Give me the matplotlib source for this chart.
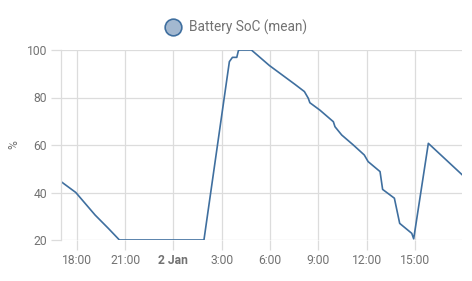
import matplotlib
matplotlib.use("Agg")
import matplotlib.pyplot as plt
from matplotlib.lines import Line2D

# hours since 1 Jan 00:00
hours = [17.04, 17.94, 19.14, 19.96, 20.65, 25.90, 27.48, 27.67, 27.94, 28.04, 28.10,
         28.85, 29.96, 31.56, 32.14, 32.38, 32.48, 33.10, 33.94, 34.04, 34.46, 35.18,
         35.86, 36.10, 36.84, 37.00, 37.73, 38.06, 38.81, 38.93, 39.84, 41.95]
soc = [44.5, 40.0, 30.5, 24.9, 20.0, 20.0, 95.1, 96.9, 96.9, 99.7, 100.0,
       100.0, 93.5, 85.5, 82.5, 79.7, 77.8, 74.7, 69.8, 67.7, 64.2, 60.0,
       55.8, 53.0, 48.8, 41.3, 37.6, 27.0, 22.8, 20.5, 60.7, 47.4]

tick_hours = [18, 21, 24, 27, 30, 33, 36, 39]
tick_labels = ["18:00", "21:00", "2 Jan", "3:00", "6:00", "9:00", "12:00", "15:00"]
y_ticks = [20, 40, 60, 80, 100]
series_name = "Battery SoC (mean)"

line_color = "#3f6f9f"
grid_color = "#dcdcdc"
text_color = "#727272"

plt.rcParams["font.family"] = ["Roboto", "DejaVu Sans"]

fig = plt.figure(figsize=(4.72, 2.81), dpi=100)
ax = fig.add_axes([61 / 472, 1 - 240 / 281, (462.3 - 61) / 472, 190 / 281])

ax.plot(hours, soc, color=line_color, lw=1.2, solid_joinstyle="round")
ax.set_xlim(17.02, 41.95)
ax.set_ylim(20, 100)

ax.set_xticks(tick_hours)
ax.set_xticklabels(tick_labels)
for lbl in ax.get_xticklabels():
    if lbl.get_text() == "2 Jan":
        lbl.set_fontweight("bold")
ax.set_yticks(y_ticks)

ax.grid(True, color=grid_color, lw=0.9)
ax.set_axisbelow(True)
for s in ["top", "right", "bottom"]:
    ax.spines[s].set_visible(False)
ax.spines["left"].set_color(grid_color)
ax.spines["left"].set_linewidth(0.9)
ax.tick_params(axis="both", colors=grid_color, labelcolor=text_color,
               labelsize=8.7, length=7, width=0.9, pad=3)

ax.set_ylabel("%", color=text_color, fontsize=8.7, labelpad=2)
ax.yaxis.set_label_coords(-41 / 401, 0.5)

handle = Line2D([], [], marker="o", linestyle="none", markersize=12,
                markerfacecolor="#a3b8d0", markeredgecolor=line_color,
                markeredgewidth=1.2)
leg = fig.legend([handle], [series_name], loc="center", bbox_to_anchor=(233 / 472, 1 - 27 / 281),
                 frameon=False, fontsize=9.8, handletextpad=0.2, borderpad=0)
for t in leg.get_texts():
    t.set_color(text_color)

fig.savefig("out.png", dpi=100)
